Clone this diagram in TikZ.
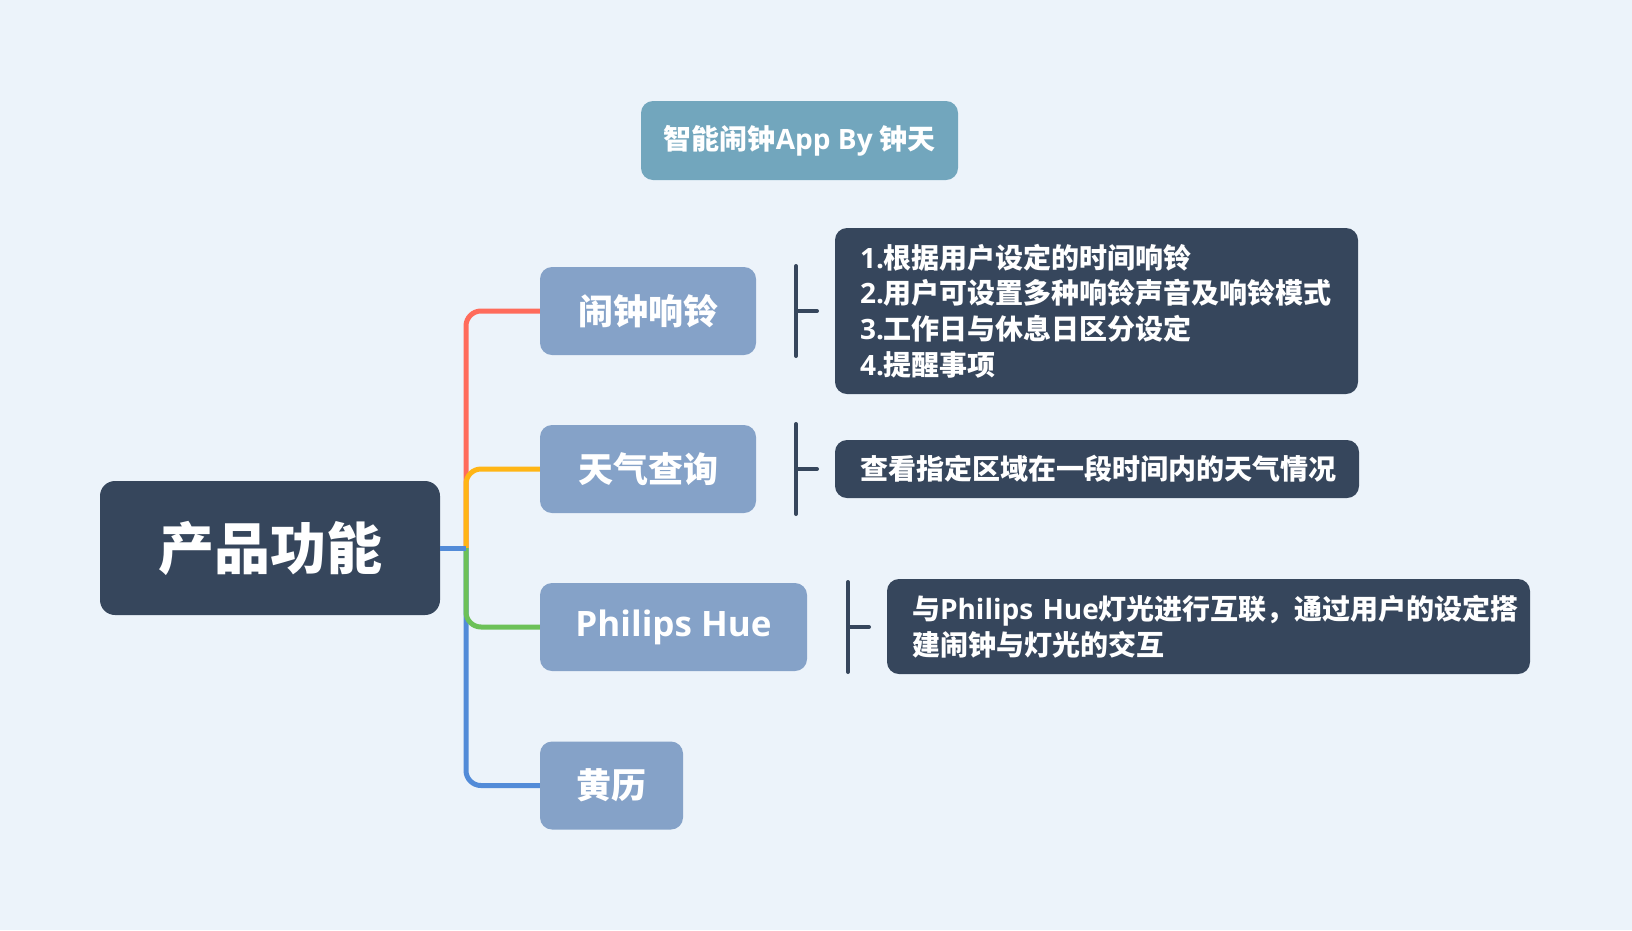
\documentclass[tikz,border=0pt]{standalone}
\usepackage{fontspec}
\setmainfont{Noto Sans CJK SC}
\newfontfamily\lat{Open Sans}
\definecolor{bgc}{HTML}{ECF3FA}
\definecolor{darkc}{HTML}{36465C}
\definecolor{branchc}{HTML}{85A2C8}
\definecolor{titlec}{HTML}{72A6BD}
\definecolor{redc}{HTML}{FF6B5B}
\definecolor{orangec}{HTML}{FFB515}
\definecolor{greenc}{HTML}{6CC158}
\definecolor{bluec}{HTML}{528BD8}
\begin{document}
\begin{tikzpicture}[x=1pt,y=-1pt,
  box/.style={rounded corners=12pt, inner sep=0pt, text=white},
  branchbox/.style={box, fill=branchc, minimum height=88pt, font=\fontsize{35}{42}\selectfont\bfseries},
  detailbox/.style={box, fill=darkc, align=left, inner xsep=25pt, font=\fontsize{28}{35.7}\selectfont\bfseries},
  link/.style={line width=5pt, rounded corners=15pt},
  brk/.style={draw=darkc, line width=4pt, line cap=round}
]
\fill[bgc] (0,0) rectangle (1632,930);
\useasboundingbox (0,0) rectangle (1632,930);

% title
\node[box, fill=titlec, minimum width=317pt, minimum height=79pt, font=\fontsize{28}{34}\selectfont\bfseries] (title) at (799.5,140.5) {智能闹钟{\lat App By} 钟天};

% root
\node[box, rounded corners=15pt, fill=darkc, minimum width=340pt, minimum height=134pt, font=\fontsize{56}{64}\selectfont\bfseries] (root) at (270,548) {产品功能};

% branches
\node[branchbox, minimum width=216pt] (b1) at (648,311) {闹钟响铃};
\node[branchbox, minimum width=216pt] (b2) at (648,469) {天气查询};
\node[branchbox, minimum width=267pt] (b3) at (673.5,627) {{\lat Philips Hue}};
\node[branchbox, minimum width=143pt] (b4) at (611.5,785.5) {黄历};

% details
\node[detailbox, text width=473pt, minimum height=166pt] (d1) at (1096.5,311) {{\lat 1.}根据用户设定的时间响铃\\{\lat 2.}用户可设置多种响铃声音及响铃模式\\{\lat 3.}工作日与休息日区分设定\\{\lat 4.}提醒事项};
\node[detailbox, text width=474pt, minimum height=58pt] (d2) at (1097,469) {查看指定区域在一段时间内的天气情况};
\node[detailbox, text width=593pt, minimum height=95pt] (d3) at (1208.5,626.5) {与{\lat Philips~Hue}灯光进行互联，通过用户的设定搭\\建闹钟与灯光的交互};

% connectors
\coordinate (j) at (466,548);
\draw[link, draw=redc] (j) |- (b1.west);
\draw[link, draw=orangec] (j) |- (b2.west);
\draw[link, draw=bluec] (j) |- (b4.west);
\draw[link, draw=greenc] (j) |- (b3.west);
\draw[line width=5pt, draw=bluec] (root.east) -- (j);

% brackets
\coordinate (k1) at (796,311);
\coordinate (k2) at (796,469);
\coordinate (k3) at (848,627);
\draw[brk] (796,266) -- (796,356);
\draw[brk] (k1) -- ++(21,0);
\draw[brk] (796,424) -- (796,514);
\draw[brk] (k2) -- ++(21,0);
\draw[brk] (848,582) -- (848,672);
\draw[brk] (k3) -- ++(21,0);
\end{tikzpicture}
\end{document}
